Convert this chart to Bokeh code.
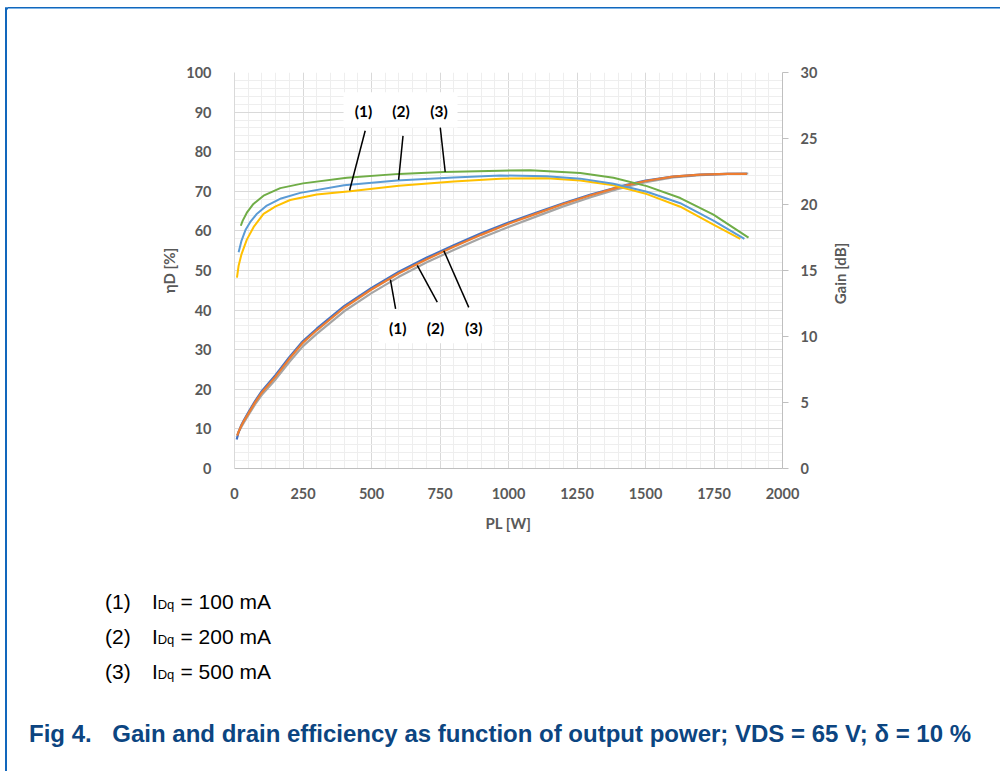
from math import pi
from bokeh.plotting import figure
from bokeh.models import Range1d, LinearAxis, FixedTicker, Label, BoxAnnotation, Div
from bokeh.layouts import row, column
from bokeh.embed import file_html
from bokeh.resources import INLINE

# ---------------- data ----------------
x_ticks = [0, 250, 500, 750, 1000, 1250, 1500, 1750, 2000]
y_ticks = [0, 10, 20, 30, 40, 50, 60, 70, 80, 90, 100]
gain_ticks = [0, 5, 10, 15, 20, 25, 30]

# drain efficiency [%]
pl_eff1 = [9, 15, 25, 45, 70, 106, 150, 203, 300, 422, 600, 800, 970, 1140, 1262, 1383, 1505, 1627, 1748, 1846]
eff1 = [48.2, 51.2, 54.0, 57.8, 61.0, 64.3, 66.2, 67.8, 69.2, 70.0, 71.4, 72.5, 73.2, 73.3, 72.7, 71.5, 69.3, 66.1, 61.6, 58.0]
pl_eff2 = [15, 25, 40, 57, 80, 118, 170, 240, 400, 593, 800, 970, 1140, 1262, 1383, 1505, 1627, 1748, 1861]
eff2 = [54.6, 57.4, 60.2, 62.2, 64.2, 66.4, 68.2, 69.6, 71.5, 72.7, 73.5, 74.0, 73.8, 73.2, 71.9, 69.9, 67.0, 62.6, 58.0]
pl_eff3 = [23, 30, 45, 69, 106, 167, 250, 410, 600, 763, 970, 1079, 1262, 1383, 1505, 1627, 1748, 1876]
eff3 = [61.3, 62.6, 64.6, 66.8, 68.9, 70.8, 72.0, 73.4, 74.4, 74.9, 75.2, 75.3, 74.6, 73.4, 71.3, 68.3, 64.1, 58.3]

# gain [dB]
pl_gain1 = [8, 15, 25, 35, 50, 75, 100, 150, 200, 250, 300, 400, 500, 600, 700, 800, 900, 1000, 1100, 1200, 1300, 1400, 1500, 1600, 1700, 1800, 1870]
gain1 = [2.19, 2.76, 3.30, 3.69, 4.23, 5.10, 5.88, 7.08, 8.43, 9.66, 10.59, 12.30, 13.68, 14.91, 15.96, 16.92, 17.82, 18.63, 19.38, 20.10, 20.76, 21.33, 21.81, 22.11, 22.26, 22.32, 22.32]
pl_gain2 = [10, 15, 25, 35, 50, 75, 100, 150, 200, 250, 300, 400, 500, 600, 700, 800, 900, 1000, 1100, 1200, 1300, 1400, 1500, 1600, 1700, 1800, 1870]
gain2 = [2.49, 2.79, 3.24, 3.63, 4.14, 5.01, 5.76, 6.96, 8.31, 9.54, 10.47, 12.18, 13.56, 14.79, 15.84, 16.80, 17.70, 18.54, 19.29, 20.04, 20.70, 21.30, 21.78, 22.11, 22.26, 22.32, 22.32]
pl_gain3 = [10, 15, 25, 35, 50, 75, 100, 150, 200, 250, 300, 400, 500, 600, 700, 800, 900, 1000, 1100, 1200, 1300, 1400, 1500, 1600, 1700, 1800, 1875]
gain3 = [2.52, 2.76, 3.15, 3.51, 4.02, 4.86, 5.58, 6.75, 8.07, 9.27, 10.20, 11.91, 13.29, 14.52, 15.60, 16.56, 17.46, 18.30, 19.08, 19.86, 20.55, 21.18, 21.69, 22.05, 22.23, 22.32, 22.35]

curve_tags = ["(1)", "(2)", "(3)"]
legend_lines = ["= 100 mA", "= 200 mA", "= 500 mA"]
caption_num = "Fig 4."
caption = "Gain and drain efficiency as function of output power; VDS = 65 V; \u03b4 = 10 %"

# ---------------- styles ----------------
BORDER_DARK = "#1267BC"
BORDER_LIGHT = "#7DB3E6"
TICK_FONT = "Lato"
GRAY = "#595959"
ITEM_FONT = "'Liberation Sans', Arial, sans-serif"
CAP_COLOR = "#0C4581"


def blank(w, h, x0, x1, y0, y1, top=0, bottom=0):
    """Figure whose data coords are page pixels (y grows downward)."""
    f = figure(width=w, height=h, output_backend="svg", toolbar_location=None,
               x_range=Range1d(x0, x1), y_range=Range1d(y1, y0),
               x_axis_type=None, y_axis_type=None,
               min_border_left=0, min_border_right=0,
               min_border_top=top, min_border_bottom=bottom)
    f.outline_line_color = None
    f.background_fill_color = "white"
    f.border_fill_color = "white"
    return f


def rect(f, l, r, t, b, color):
    f.add_layout(BoxAnnotation(left=l, right=r, top=t, bottom=b, fill_color=color,
                               fill_alpha=1, line_color=None))


# left strip: page x 0..8
fl = blank(8, 771, 0, 8, 0, 771)
rect(fl, 4.5, 6.5, 7.5, 771, BORDER_DARK)
rect(fl, 4.5, 8, 6.7, 8.4, BORDER_DARK)
rect(fl, 6.5, 8, 8.4, 9.4, BORDER_LIGHT)

# top strip: page x 8..1000, y 0..20
top_html = ('<div style="position:relative;width:992px;height:20px;margin:0;padding:0;">'
            f'<div style="position:absolute;left:0;top:6.7px;width:992px;height:1.7px;background:{BORDER_DARK};"></div>'
            f'<div style="position:absolute;left:0;top:8.4px;width:992px;height:1px;background:{BORDER_LIGHT};"></div>'
            '</div>')
ft = Div(text=top_html, width=992, height=20, margin=0)

# ---------------- chart: page x 8..826, y 20..560 ----------------
p = figure(width=818, height=540, output_backend="svg", toolbar_location=None,
           x_range=Range1d(0, 2000), y_range=Range1d(0, 100),
           min_border_left=226, min_border_right=44, min_border_top=52, min_border_bottom=92)
p.outline_line_color = None
p.background_fill_color = "white"
p.border_fill_color = "white"
p.extra_y_ranges = {"gain": Range1d(0, 30)}

xt = FixedTicker(ticks=x_ticks, minor_ticks=list(range(0, 2001, 50)))
yt = FixedTicker(ticks=y_ticks, minor_ticks=list(range(0, 101, 2)))
p.xaxis.ticker = xt
p.yaxis.ticker = yt
p.xgrid.ticker = xt
p.ygrid.ticker = yt
for g in (p.xgrid, p.ygrid):
    g.grid_line_color = "#D9D9D9"
    g.grid_line_width = 1
    g.minor_grid_line_color = "#EEEEEE"
    g.minor_grid_line_width = 1


def style_axis(ax):
    ax.major_label_text_font = TICK_FONT
    ax.major_label_text_font_style = "bold"
    ax.major_label_text_font_size = "14.5px"
    ax.major_label_text_color = GRAY
    ax.minor_tick_line_color = None
    ax.axis_label_text_font = TICK_FONT
    ax.axis_label_text_font_style = "bold"
    ax.axis_label_text_font_size = "15px"
    ax.axis_label_text_color = GRAY


xa = p.xaxis[0]
style_axis(xa)
xa.axis_line_color = "#BFBFBF"
xa.major_tick_line_color = None
xa.major_tick_out = 0
xa.major_tick_in = 0
xa.major_label_standoff = 15
xa.axis_label = "PL [W]"
xa.axis_label_standoff = 12

ya = p.yaxis[0]
style_axis(ya)
ya.axis_line_color = "#D9D9D9"
ya.major_tick_line_color = None
ya.major_tick_out = 0
ya.major_tick_in = 0
ya.major_label_standoff = 19
ya.axis_label = "\u03b7D [%]"
ya.axis_label_standoff = 5

ra = LinearAxis(y_range_name="gain", ticker=FixedTicker(ticks=gain_ticks))
style_axis(ra)
ra.axis_line_color = "#BFBFBF"
ra.major_tick_line_color = "#BFBFBF"
ra.major_tick_out = 6
ra.major_tick_in = 0
ra.major_label_standoff = 12
p.add_layout(ra, "right")

# white boxes behind the curve tags
for l, r, b, t in [(398, 814, 86.1, 95.0), (526, 942, 31.6, 39.9)]:
    p.add_layout(BoxAnnotation(left=l, right=r, bottom=b, top=t, fill_color="white",
                               fill_alpha=1, line_color=None, level="underlay"))

# curves
p.line(pl_gain3, gain3, y_range_name="gain", line_color="#A5A5A5", line_width=2.2)
p.line(pl_gain1, gain1, y_range_name="gain", line_color="#4472C4", line_width=2.2)
p.line(pl_gain2, gain2, y_range_name="gain", line_color="#ED7D31", line_width=2.2)
p.line(pl_eff1, eff1, line_color="#FFC000", line_width=2)
p.line(pl_eff2, eff2, line_color="#5B9BD5", line_width=2)
p.line(pl_eff3, eff3, line_color="#70AD47", line_width=2)

# leader lines
p.segment(x0=[477, 615, 751, 588, 740, 855], y0=[85.3, 84.0, 86.1, 40.3, 42.0, 40.7],
          x1=[420, 599, 769, 569, 667, 764], y1=[70.2, 72.9, 74.9, 47.7, 51.3, 55.0],
          line_color="black", line_width=1.5)

# tags
for tag, xx in zip(curve_tags, [471, 608, 746]):
    p.add_layout(Label(x=xx, y=90.4, text=tag, text_align="center", text_baseline="middle",
                       text_font="Lato", text_font_style="bold", text_font_size="15.5px",
                       text_color="black"))
for tag, xx in zip(curve_tags, [596, 734, 873]):
    p.add_layout(Label(x=xx, y=35.5, text=tag, text_align="center", text_baseline="middle",
                       text_font="Lato", text_font_style="bold", text_font_size="15.5px",
                       text_color="black"))

# right axis title strip: page x 826..1000, same frame rows as the chart
fr = blank(174, 540, 826, 1000, 72, 468, top=52, bottom=92)
fr.add_layout(Label(x=839, y=273, text="Gain [dB]", angle=pi / 2, text_align="center",
                    text_baseline="middle", text_font=TICK_FONT, text_font_style="bold",
                    text_font_size="15px", text_color=GRAY))

# ---------------- legend + caption: page x 8..1000, y 560..771 ----------------
def span(x, baseline, text, size, bold=False, color="black"):
    left = x - 8
    top = baseline - 560 - 0.8465 * size
    weight = "bold" if bold else "normal"
    return (f'<span style="position:absolute;left:{left:.1f}px;top:{top:.1f}px;'
            f'font-family:{ITEM_FONT};font-size:{size}px;line-height:1;font-weight:{weight};'
            f'color:{color};white-space:nowrap;">{text}</span>')


parts = []
for i, (tag, rest) in enumerate(zip(curve_tags, legend_lines)):
    base = 609 + 35 * i
    parts.append(span(105, base, tag, 21))
    parts.append(span(152, base, "I", 21))
    parts.append(span(157.7, base, "Dq", 13))
    parts.append(span(180.5, base, rest, 21))
parts.append(span(29, 742.3, caption_num, 24, bold=True, color=CAP_COLOR))
parts.append(span(112.3, 742.3, caption, 24, bold=True, color=CAP_COLOR))
bottom_html = ('<div style="position:relative;width:992px;height:211px;margin:0;padding:0;">'
               + "".join(parts) + '</div>')
fb = Div(text=bottom_html, width=992, height=211, margin=0)

layout = row(fl, column(ft, row(p, fr), fb))
open("out.html", "w").write(file_html(layout, INLINE))
